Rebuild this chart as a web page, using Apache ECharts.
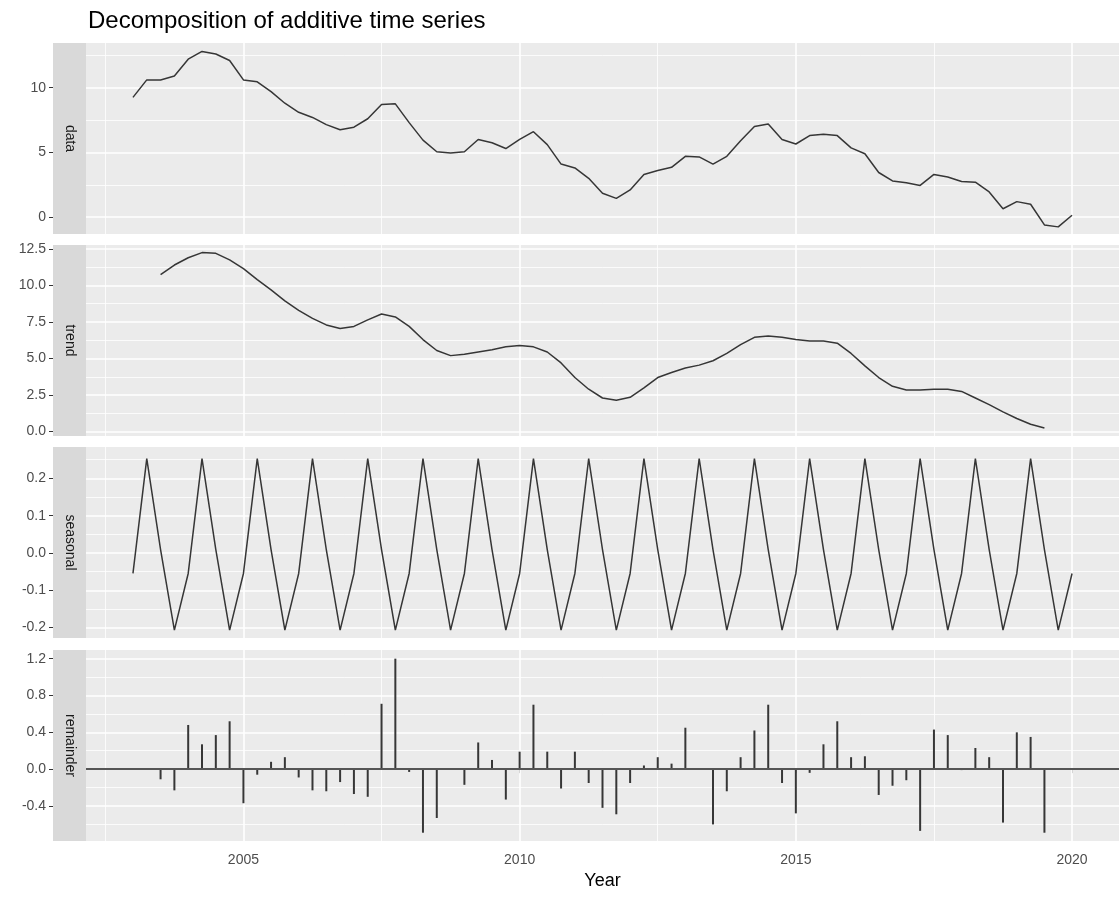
<!DOCTYPE html>
<html>
<head>
<meta charset="utf-8">
<script src="https://cdn.jsdelivr.net/npm/echarts@6/dist/echarts.min.js"></script>
<style>
  html, body { margin: 0; padding: 0; background: #fff; }
  #chart { width: 1119px; height: 898px; }
</style>
</head>
<body>
<div id="chart"></div>
<script>
// Quarterly series, 2003 Q1 .. 2020 Q1
const dataStart = 2003;
const dataValues = [
  9.25, 10.6, 10.6, 10.9,
  12.2, 12.8, 12.6, 12.1,
  10.6, 10.45, 9.7, 8.8,
  8.1, 7.7, 7.15, 6.75,
  6.95, 7.6, 8.7, 8.75,
  7.3, 5.95, 5.05, 4.95,
  5.05, 6.0, 5.75, 5.3,
  6.0, 6.6, 5.6, 4.1,
  3.8, 3.0, 1.85, 1.45,
  2.1, 3.3, 3.6, 3.85,
  4.7, 4.65, 4.1, 4.7,
  5.9, 7.0, 7.2, 6.0,
  5.65, 6.3, 6.4, 6.3,
  5.35, 4.9, 3.45, 2.8,
  2.65, 2.45, 3.3, 3.1,
  2.75, 2.7, 1.95, 0.65,
  1.2, 1.0, -0.6, -0.75,
  0.15
];

// Moving-average trend, 2003 Q3 .. 2019 Q3
const trendStart = 2003.5;
const trendValues = [
  10.75, 11.4,
  11.9, 12.25, 12.2, 11.75,
  11.15, 10.4, 9.7, 8.95,
  8.3, 7.75, 7.3, 7.05,
  7.2, 7.65, 8.05, 7.85,
  7.2, 6.3, 5.55, 5.2,
  5.3, 5.45, 5.6, 5.8,
  5.9, 5.8, 5.45, 4.7,
  3.7, 2.9, 2.3, 2.15,
  2.35, 3.0, 3.7, 4.05,
  4.35, 4.55, 4.85, 5.35,
  5.95, 6.45, 6.55, 6.45,
  6.3, 6.2, 6.2, 6.05,
  5.35, 4.5, 3.7, 3.1,
  2.85, 2.85, 2.9, 2.9,
  2.75, 2.3, 1.85, 1.35,
  0.9, 0.5, 0.25
];

// Seasonal component, 2003 Q1 .. 2020 Q1
const seasonalValues = [
  -0.055, 0.253, 0.009, -0.207,
  -0.055, 0.253, 0.009, -0.207,
  -0.055, 0.253, 0.009, -0.207,
  -0.055, 0.253, 0.009, -0.207,
  -0.055, 0.253, 0.009, -0.207,
  -0.055, 0.253, 0.009, -0.207,
  -0.055, 0.253, 0.009, -0.207,
  -0.055, 0.253, 0.009, -0.207,
  -0.055, 0.253, 0.009, -0.207,
  -0.055, 0.253, 0.009, -0.207,
  -0.055, 0.253, 0.009, -0.207,
  -0.055, 0.253, 0.009, -0.207,
  -0.055, 0.253, 0.009, -0.207,
  -0.055, 0.253, 0.009, -0.207,
  -0.055, 0.253, 0.009, -0.207,
  -0.055, 0.253, 0.009, -0.207,
  -0.055, 0.253, 0.009, -0.207,
  -0.055
];

// Remainder, 2003 Q3 .. 2019 Q3
const remainderStart = 2003.5;
const remainderValues = [
  -0.11, -0.23,
  0.48, 0.27, 0.37, 0.52,
  -0.37, -0.06, 0.08, 0.13,
  -0.09, -0.23, -0.24, -0.14,
  -0.27, -0.30, 0.71, 1.20,
  -0.03, -0.69, -0.53, 0.01,
  -0.17, 0.29, 0.10, -0.33,
  0.19, 0.70, 0.19, -0.21,
  0.19, -0.15, -0.42, -0.49,
  -0.15, 0.04, 0.13, 0.06,
  0.45, 0.01, -0.60, -0.24,
  0.13, 0.42, 0.70, -0.15,
  -0.48, -0.04, 0.27, 0.52,
  0.13, 0.14, -0.28, -0.18,
  -0.12, -0.67, 0.43, 0.37,
  -0.01, 0.23, 0.13, -0.58,
  0.40, 0.35, -0.69
];

const panelNames = ['data', 'trend', 'seasonal', 'remainder'];

// Axis breaks
const yearTicks = [2005, 2010, 2015, 2020];
const yearMinor = [2002.5, 2007.5, 2012.5, 2017.5];
const dataTicks = [0, 5, 10];
const dataMinor = [2.5, 7.5, 12.5];
const trendTicks = [0, 2.5, 5, 7.5, 10, 12.5];
const trendMinor = [1.25, 3.75, 6.25, 8.75, 11.25];
const seasonalTicks = [-0.2, -0.1, 0, 0.1, 0.2];
const seasonalMinor = [-0.15, -0.05, 0.05, 0.15, 0.25];
const remainderTicks = [-0.4, 0, 0.4, 0.8, 1.2];
const remainderMinor = [-0.6, -0.2, 0.2, 0.6, 1.0];

// Layout
const FONT = "'Liberation Sans', Arial, sans-serif";
const panelTop = [43, 245, 447, 650];
const panelHeight = 191;
const panelLeft = 86;
const stripWidth = 33;
const xRange = [2002.15, 2020.85];
const yRanges = [[-1.3, 13.45], [-0.3, 12.77], [-0.228, 0.284], [-0.78, 1.294]];
const yMajor = [dataTicks, trendTicks, seasonalTicks, remainderTicks];
const yMinor = [dataMinor, trendMinor, seasonalMinor, remainderMinor];
const yFormat = [
  v => String(v),
  v => v.toFixed(1),
  v => v.toFixed(1),
  v => v.toFixed(1)
];

const toPairs = (start, vals) => vals.map((v, i) => [start + i * 0.25, v]);

function gridLineItems(i) {
  const items = [];
  yearMinor.forEach(v => items.push({ xAxis: v, lineStyle: { width: 0.8 } }));
  yMinor[i].forEach(v => items.push({ yAxis: v, lineStyle: { width: 0.8 } }));
  yearTicks.forEach(v => items.push({ xAxis: v, lineStyle: { width: 1.6 } }));
  yMajor[i].forEach(v => items.push({ yAxis: v, lineStyle: { width: 1.6 } }));
  return items;
}

const grids = [], xAxes = [], yAxes = [], series = [], graphics = [];

panelNames.forEach((name, i) => {
  const isLast = i === panelNames.length - 1;
  grids.push({
    left: panelLeft, right: 0, top: panelTop[i], height: panelHeight,
    show: true, backgroundColor: '#ebebeb', borderWidth: 0
  });
  xAxes.push({
    type: 'value', gridIndex: i, min: xRange[0], max: xRange[1],
    axisLine: { show: false },
    splitLine: { show: false },
    axisTick: { show: isLast, length: 4, customValues: yearTicks,
      lineStyle: { color: '#333', width: 1 } },
    axisLabel: { show: isLast, customValues: yearTicks, margin: 12,
      color: '#4d4d4d', fontSize: 14, fontFamily: FONT, formatter: v => String(v) },
    name: isLast ? 'Year' : '',
    nameLocation: 'middle', nameGap: 31,
    nameTextStyle: { color: '#000', fontSize: 18, fontFamily: FONT }
  });
  yAxes.push({
    type: 'value', gridIndex: i, min: yRanges[i][0], max: yRanges[i][1],
    offset: stripWidth,
    axisLine: { show: false },
    splitLine: { show: false },
    axisTick: { show: true, length: 4, customValues: yMajor[i],
      lineStyle: { color: '#333', width: 1 } },
    axisLabel: { show: true, customValues: yMajor[i], margin: 7,
      color: '#4d4d4d', fontSize: 14, fontFamily: FONT, formatter: yFormat[i] }
  });
  // panel grid lines
  series.push({
    type: 'line', xAxisIndex: i, yAxisIndex: i, data: [], silent: true,
    markLine: {
      silent: true, symbol: 'none', z: 1, animation: false,
      label: { show: false },
      lineStyle: { color: '#ffffff', type: 'solid' },
      data: gridLineItems(i)
    }
  });
  // strip on the left of each panel
  graphics.push({
    type: 'rect', silent: true,
    shape: { x: panelLeft - stripWidth, y: panelTop[i], width: stripWidth, height: panelHeight },
    style: { fill: '#d9d9d9' }
  });
  graphics.push({
    type: 'text', silent: true,
    x: panelLeft - stripWidth / 2, y: panelTop[i] + panelHeight / 2,
    rotation: -Math.PI / 2,
    style: { text: name, fill: '#1a1a1a', font: '14px ' + FONT, align: 'center', verticalAlign: 'middle' }
  });
});

const lineStyle = { color: '#363636', width: 1.5 };
series.push({
  type: 'line', xAxisIndex: 0, yAxisIndex: 0, z: 3, showSymbol: false,
  data: toPairs(dataStart, dataValues), lineStyle
});
series.push({
  type: 'line', xAxisIndex: 1, yAxisIndex: 1, z: 3, showSymbol: false,
  data: toPairs(trendStart, trendValues), lineStyle
});
series.push({
  type: 'line', xAxisIndex: 2, yAxisIndex: 2, z: 3, showSymbol: false,
  data: toPairs(dataStart, seasonalValues), lineStyle
});
series.push({
  type: 'bar', xAxisIndex: 3, yAxisIndex: 3, z: 3, barWidth: 2,
  data: toPairs(remainderStart, remainderValues),
  itemStyle: { color: '#363636' },
  markLine: {
    silent: true, symbol: 'none', animation: false,
    label: { show: false },
    lineStyle: { color: '#555555', width: 1.8, type: 'solid' },
    data: [{ yAxis: 0 }]
  }
});

const chart = echarts.init(document.getElementById('chart'));
chart.setOption({
  animation: false,
  backgroundColor: '#ffffff',
  title: {
    text: 'Decomposition of additive time series',
    left: 88, top: 9, padding: 0,
    textStyle: { color: '#000', fontSize: 24, fontWeight: 'normal', fontFamily: FONT }
  },
  grid: grids,
  xAxis: xAxes,
  yAxis: yAxes,
  series: series,
  graphic: graphics
});
</script>
</body>
</html>
